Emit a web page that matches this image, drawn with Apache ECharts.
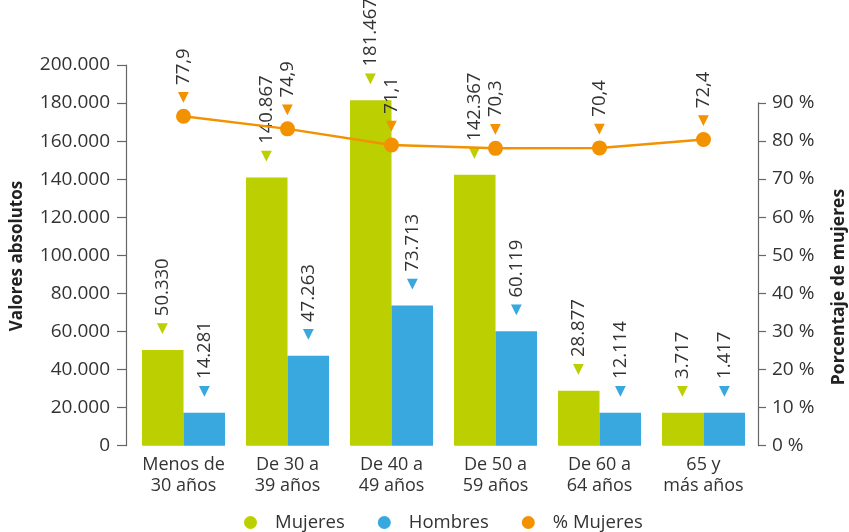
<!DOCTYPE html>
<html>
<head>
<meta charset="utf-8">
<script src="https://cdn.jsdelivr.net/npm/echarts@6/dist/echarts.min.js"></script>
<style>html,body{margin:0;padding:0;background:#fff}#c{width:849px;height:532px}</style>
</head>
<body>
<div id="c"></div>
<script>
var categories = ['Menos de\n30 años','De 30 a\n39 años','De 40 a\n49 años','De 50 a\n59 años','De 60 a\n64 años','65 y\nmás años'];
var mujeres = [50330,140867,181467,142367,28877,3717];
var hombres = [14281,47263,73713,60119,12114,1417];
var pctMujeres = [77.9,74.9,71.1,70.3,70.4,72.4];

var GREEN = '#bccf00', BLUE = '#38a8df', ORANGE = '#f39200', TXT = '#333333';
var FONT = '"Open Sans", sans-serif';

function fmtInt(v){ return String(v).replace(/\B(?=(\d{3})+(?!\d))/g,'.'); }
function fmtPct(v){ return v.toFixed(1).replace('.',','); }

function lbl(color, fmt, dist){
  return {
    show: true, position: 'top', distance: dist, rotate: 90,
    align: 'left', verticalAlign: 'middle',
    formatter: function(p){ return '{t|◀}{s|}{v|' + fmt(p.value) + '}'; },
    rich: {
      t: {fontFamily: 'DejaVu Sans', fontSize: 14, color: color},
      s: {width: 7},
      v: {fontFamily: FONT, fontSize: 18.5, color: TXT}
    }
  };
}

var chart = echarts.init(document.getElementById('c'), null, {renderer: 'canvas'});
chart.setOption({
  animation: false,
  textStyle: {fontFamily: FONT},
  grid: [
    {left: 131.5, right: 93.5, top: 65, bottom: 86.3},
    {left: 131.5, right: 93.5, top: 102.8, bottom: 86.3}
  ],
  legend: {
    left: 239, top: 508, icon: 'circle', itemWidth: 13, itemHeight: 13, itemGap: 33,
    textStyle: {fontSize: 18.5, color: TXT, padding: [0,0,0,13]},
    data: ['Mujeres','Hombres','% Mujeres']
  },
  xAxis: [
    {type: 'category', gridIndex: 0, data: categories,
     axisLine: {show: false}, axisTick: {show: false},
     axisLabel: {fontSize: 18, lineHeight: 21, margin: 9, color: TXT, interval: 0}},
    {type: 'category', gridIndex: 1, data: categories, show: false}
  ],
  yAxis: [
    {type: 'value', gridIndex: 0, position: 'left', offset: 5.5, min: 0, max: 200000, interval: 20000,
     axisLine: {show: true, lineStyle: {color: '#666', width: 1.2}},
     axisTick: {show: true, length: 9, lineStyle: {color: '#666', width: 1.2}},
     splitLine: {show: false},
     axisLabel: {fontSize: 19, color: TXT, margin: 16, formatter: fmtInt}},
    {type: 'value', gridIndex: 0, min: 0, max: 90, show: false, splitLine: {show: false}},
    {type: 'value', gridIndex: 1, position: 'right', offset: 2.5, min: 0, max: 90, interval: 10,
     axisLine: {show: true, lineStyle: {color: '#666', width: 1.2}},
     axisTick: {show: true, length: 8, lineStyle: {color: '#666', width: 1.2}},
     splitLine: {show: false},
     axisLabel: {fontSize: 19, color: TXT, margin: 14, formatter: '{value} %'}}
  ],
  graphic: [
    {type: 'text', x: 17, y: 256, rotation: Math.PI/2,
     style: {text: 'Valores absolutos', font: 'bold 17px ' + FONT, fill: '#222', align: 'center', verticalAlign: 'middle'}},
    {type: 'text', x: 839, y: 287, rotation: Math.PI/2,
     style: {text: 'Porcentaje de mujeres', font: 'bold 17.5px ' + FONT, fill: '#222', align: 'center', verticalAlign: 'middle'}}
  ],
  series: [
    {name: 'Mujeres', type: 'bar', xAxisIndex: 0, yAxisIndex: 0, data: mujeres,
     barWidth: 41.5, barGap: '0%', barMinHeight: 33,
     itemStyle: {color: GREEN}, label: lbl(GREEN, fmtInt, 16)},
    {name: 'Hombres', type: 'bar', xAxisIndex: 0, yAxisIndex: 0, data: hombres,
     barWidth: 41.5, barGap: '0%', barMinHeight: 33,
     itemStyle: {color: BLUE}, label: lbl(BLUE, fmtInt, 16)},
    {name: '% Mujeres', type: 'line', xAxisIndex: 0, yAxisIndex: 1, data: pctMujeres,
     symbol: 'circle', symbolSize: 15, z: 5,
     lineStyle: {color: ORANGE, width: 2.5}, itemStyle: {color: ORANGE},
     label: lbl(ORANGE, fmtPct, 6)}
  ]
});
</script>
</body>
</html>
